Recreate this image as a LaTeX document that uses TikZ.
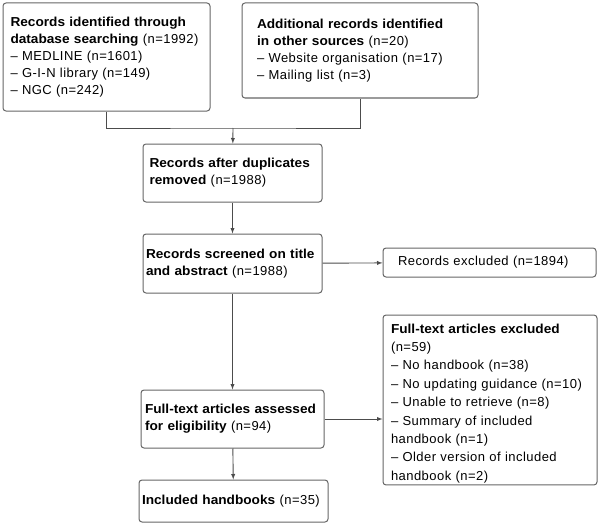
\documentclass[tikz,border=0pt]{standalone}
\usepackage{fontspec}
\newfontfamily\chartfont{Liberation Sans}[LetterSpace=3.5]
\newfontfamily\headfont{Liberation Sans Bold}[FakeStretch=1.05]
\newcommand\hd[1]{{\headfont #1}}
\begin{document}
\begin{tikzpicture}[x=1pt,y=-1pt,font=\chartfont\fontsize{13}{17}\selectfont,
	box/.style={draw=black!60,line width=1pt,rounded corners=3pt,align=left,inner sep=0pt},
	link/.style={draw=black!70,line width=0.9pt},
	>=latex]
		\useasboundingbox (0,0) rectangle (600,527);
		\node[box,minimum width=207pt,minimum height=108pt,text width=192pt] (ident) at (106.5,57)
			{\hd{Records identified through}\\\hd{database searching} (n=1992)\\– MEDLINE (n=1601)\\– G-I-N library (n=149)\\– NGC (n=242)};
		\node[box,minimum width=236pt,minimum height=95pt,text width=206pt] (other) at (360,50.5)
			{\hd{Additional records identified}\\\hd{in other sources} (n=20)\\– Website organisation (n=17)\\– Mailing list (n=3)};
		\node[box,minimum width=179pt,minimum height=58pt,text width=166pt] (dupl) at (232.5,173)
			{\hd{Records after duplicates}\\\hd{removed} (n=1988)};
		\node[box,minimum width=179pt,minimum height=59pt,text width=173pt] (screen) at (232.5,263.5)
			{\hd{Records screened on title}\\\hd{and abstract} (n=1988)};
		\node[box,minimum width=213pt,minimum height=29pt,text width=183pt] (excl) at (489.5,262.5)
			{Records excluded (n=1894)};
		\node[box,minimum width=183pt,minimum height=58pt,text width=175pt] (full) at (232.5,419)
			{\hd{Full-text articles assessed}\\\hd{for eligibility} (n=94)};
		\node[box,minimum width=214pt,inner ysep=2pt,text width=198pt,font=\chartfont\fontsize{13}{18.4}\selectfont] (fullexcl) at (490,400)
			{\rule{0pt}{16pt}\hd{Full-text articles excluded}\\(n=59)\\– No handbook (n=38)\\– No updating guidance (n=10)\\– Unable to retrieve (n=8)\\– Summary of included\\handbook (n=1)\\– Older version of included\\handbook (n=2)};
		\node[box,minimum width=189pt,minimum height=42pt,text width=183pt] (incl) at (233.5,501)
			{\hd{Included handbooks} (n=35)};
		\coordinate (join) at (233,128);
		\draw[link] (ident.south) |- (join) -| (other.south);
		\draw[link,->] (join) -- (dupl);
		\draw[link,->] (dupl) -- (screen);
		\draw[link,->] (screen) -- (excl);
		\draw[link,->] (screen) -- (full);
		\draw[link,->] (full) -- (fullexcl.west |- full);
		\draw[link,->] (full) -- (incl);
	\end{tikzpicture}
\end{document}
